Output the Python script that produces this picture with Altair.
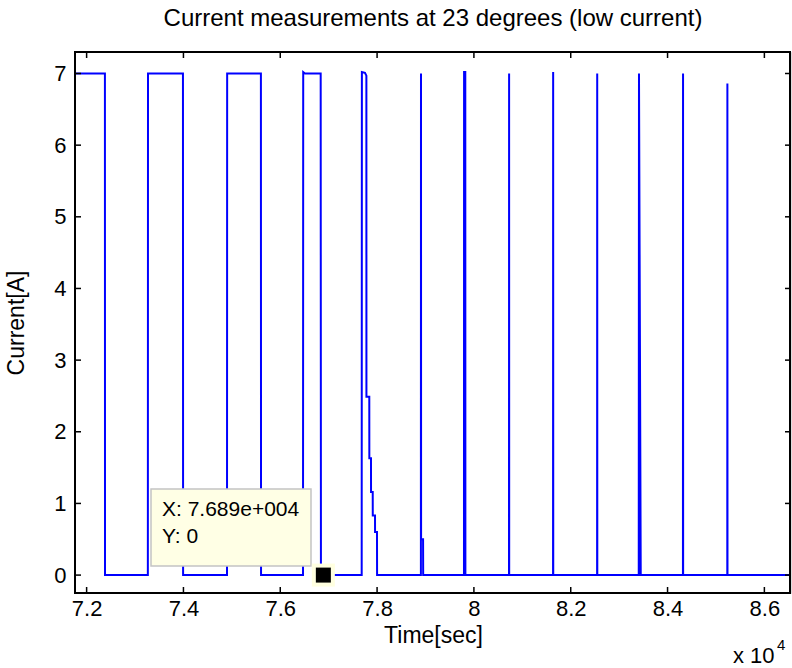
import altair as alt
import pandas as pd

# ---- data (time in seconds, current in A) ----
time_s = [
    71700, 72378, 72380, 73265, 73268, 73990, 73993,
    74900, 74903, 75600, 75603,
    76470, 76474, 76510, 76835, 76840,
    77682, 77686, 77750, 77779, 77780, 77839, 77840, 77874, 77875,
    77910, 77911, 77957, 77958, 77998, 78000,
    78905, 78907, 78909, 78950, 78952,
    79795, 79797, 79822, 79824,
    80725, 80727, 80729,
    81635, 81637, 81639,
    82545, 82547, 82549,
    83405, 83410, 83446,
    84318, 84320, 84322,
    85234, 85236, 85238,
    86700,
]
current_a = [
    7.0, 7.0, 0.0, 0.0, 7.0, 7.0, 0.0,
    0.0, 7.0, 7.0, 0.0,
    0.0, 7.02, 7.0, 7.0, 0.0,
    0.0, 7.02, 7.01, 6.97, 2.49, 2.49, 1.63, 1.63, 1.16,
    1.16, 0.83, 0.83, 0.6, 0.6, 0.0,
    0.0, 7.0, 0.5, 0.5, 0.0,
    0.0, 7.02, 7.02, 0.0,
    0.0, 7.0, 0.0,
    0.0, 7.02, 0.0,
    0.0, 7.0, 0.0,
    0.0, 7.0, 0.0,
    0.0, 7.0, 0.0,
    0.0, 6.86, 0.0,
    0.0,
]
x_ticks = [72000, 74000, 76000, 78000, 80000, 82000, 84000, 86000]
x_tick_labels = ["7.2", "7.4", "7.6", "7.8", "8", "8.2", "8.4", "8.6"]
y_ticks = [0, 1, 2, 3, 4, 5, 6, 7]
tip_x = [76890]
tip_y = [0]
tip_text_x = "X: 7.689e+004"
tip_text_y = "Y: 0"

W, H = 716, 541
FONT = "Liberation Sans"
x_dom = [71760, 86550]
y_dom = [-0.25, 7.3]

df = pd.DataFrame({"t": time_s, "i": current_a})
xs = alt.Scale(domain=x_dom, nice=False, zero=False)
ys = alt.Scale(domain=y_dom, nice=False, zero=False)

label_expr = "{" + ",".join(f"'{v}':'{l}'" for v, l in zip(x_ticks, x_tick_labels)) + "}[datum.value]"

line = alt.Chart(df).mark_line(color="#0000FF", strokeWidth=2, clip=True).encode(
    x=alt.X("t:Q", scale=xs, title="Time[sec]",
            axis=alt.Axis(values=x_ticks, labelExpr=label_expr, ticks=False, domain=False,
                          grid=False, labelFontSize=22, labelFont=FONT, labelColor="black",
                          labelPadding=5, titleFontSize=23, titleFont=FONT,
                          titleFontWeight="normal", titleColor="black", titlePadding=5)),
    y=alt.Y("i:Q", scale=ys, title="Current[A]",
            axis=alt.Axis(values=y_ticks, format="d", ticks=False, domain=False, grid=False,
                          labelFontSize=22, labelFont=FONT, labelColor="black",
                          labelPadding=9, titleFontSize=23, titleFont=FONT,
                          titleFontWeight="normal", titleColor="black", titlePadding=25)),
)

xt = pd.DataFrame({"v": x_ticks})
yt = pd.DataFrame({"v": y_ticks})
tick_x_bot = alt.Chart(xt).mark_rule(color="black", strokeWidth=1.5).encode(
    x=alt.X("v:Q", scale=xs), y=alt.value(H), y2=alt.value(H - 6))
tick_x_top = alt.Chart(xt).mark_rule(color="black", strokeWidth=1.5).encode(
    x=alt.X("v:Q", scale=xs), y=alt.value(0), y2=alt.value(6))
tick_y_left = alt.Chart(yt).mark_rule(color="black", strokeWidth=1.5).encode(
    y=alt.Y("v:Q", scale=ys), x=alt.value(0), x2=alt.value(6))
tick_y_right = alt.Chart(yt).mark_rule(color="black", strokeWidth=1.5).encode(
    y=alt.Y("v:Q", scale=ys), x=alt.value(W), x2=alt.value(W - 6))

tip_df = pd.DataFrame({"tx": tip_x, "ty": tip_y})

# plot frame
frame = alt.Chart(tip_df).mark_rect(fillOpacity=0, stroke="black", strokeWidth=2).encode(
    x=alt.value(0), x2=alt.value(W - 1), y=alt.value(0), y2=alt.value(H))

# data tip
halo = alt.Chart(tip_df).mark_square(color="#FFFFE0", opacity=1, size=23 * 23).encode(
    x=alt.X("tx:Q", scale=xs), y=alt.Y("ty:Q", scale=ys))
dot = alt.Chart(tip_df).mark_square(color="black", opacity=1, size=15 * 15).encode(
    x=alt.X("tx:Q", scale=xs), y=alt.Y("ty:Q", scale=ys))
box = alt.Chart(tip_df).mark_rect(fill="#FFFFE5", stroke="#C4C4C4", strokeWidth=1.5).encode(
    x=alt.value(76), x2=alt.value(236), y=alt.value(437), y2=alt.value(514))
txt_x = alt.Chart(tip_df).mark_text(align="left", baseline="middle", font=FONT,
                                    fontSize=21, color="black").encode(
    x=alt.value(87), y=alt.value(458), text=alt.value(tip_text_x))
txt_y = alt.Chart(tip_df).mark_text(align="left", baseline="middle", font=FONT,
                                    fontSize=21, color="black").encode(
    x=alt.value(87), y=alt.value(485), text=alt.value(tip_text_y))

# exponent label
exp_base = alt.Chart(tip_df).mark_text(align="left", baseline="alphabetic", font=FONT,
                                       fontSize=22, color="black").encode(
    x=alt.value(658), y=alt.value(611), text=alt.value("x 10"))
exp_sup = alt.Chart(tip_df).mark_text(align="left", baseline="alphabetic", font=FONT,
                                      fontSize=15, color="black").encode(
    x=alt.value(702), y=alt.value(598), text=alt.value("4"))

chart = alt.layer(
    line, tick_x_bot, tick_x_top, tick_y_left, tick_y_right, frame,
    box, txt_x, txt_y, halo, dot, exp_base, exp_sup,
).properties(
    width=W, height=H,
    title=alt.Title("Current measurements at 23 degrees (low current)", font=FONT,
                    fontSize=24, fontWeight="normal", color="black", offset=20, anchor="middle"),
    autosize=alt.AutoSizeParams(type="none"),
    padding={"left": 75, "top": 52, "right": 1, "bottom": 75},
).configure_view(stroke=None).configure(background="white")

chart.save("out.html", embed_options={"renderer": "svg", "actions": False})
